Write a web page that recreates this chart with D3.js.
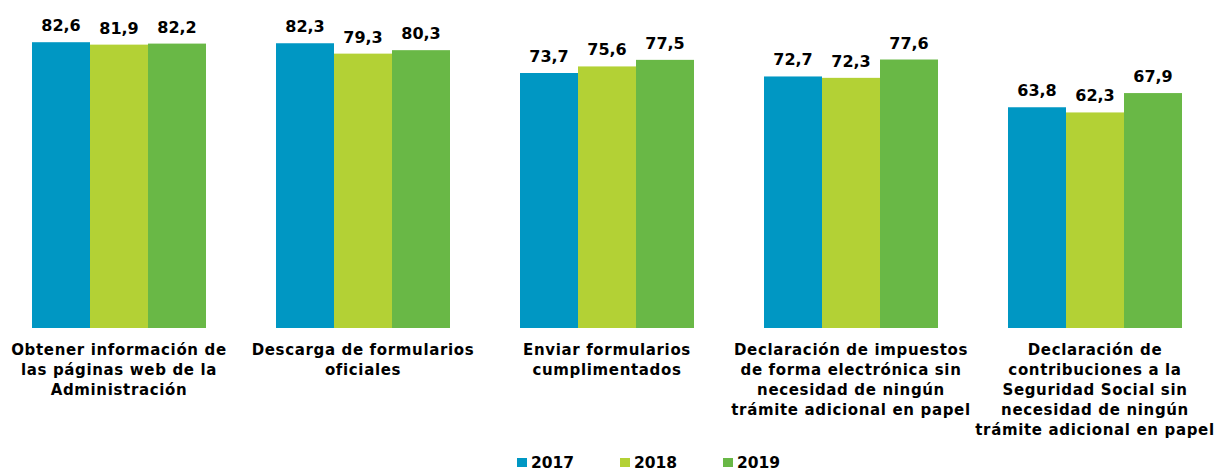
<!DOCTYPE html>
<html>
<head>
<meta charset="utf-8">
<script src="https://cdn.jsdelivr.net/npm/d3@7"></script>
<style>
  body { margin: 0; background: #fff; }
  text { font-family: "DejaVu Sans", Verdana, sans-serif; font-weight: bold; }
</style>
</head>
<body>
<div id="chart"></div>
<script>
// data
const categories = [
  ["Obtener información de", "las páginas web de la", "Administración"],
  ["Descarga de formularios", "oficiales"],
  ["Enviar formularios", "cumplimentados"],
  ["Declaración de impuestos", "de forma electrónica sin", "necesidad de ningún", "trámite adicional en papel"],
  ["Declaración de", "contribuciones a la", "Seguridad Social sin", "necesidad de ningún", "trámite adicional en papel"]
];
const years = ["2017", "2018", "2019"];
const values2017 = [82.6, 82.3, 73.7, 72.7, 63.8];
const values2018 = [81.9, 79.3, 75.6, 72.3, 62.3];
const values2019 = [82.2, 80.3, 77.5, 77.6, 67.9];
const colors = ["#0097c3", "#b3d135", "#69b846"];

const series = [values2017, values2018, values2019];

const width = 1215, height = 471;
const baseY = 328;

const svg = d3.select("#chart")
  .append("svg")
  .attr("width", width)
  .attr("height", height);

// scales
const x0 = d3.scaleBand()
  .domain(d3.range(categories.length))
  .range([-3, 1217]);

const x1 = d3.scaleBand()
  .domain(years)
  .range([x0.bandwidth() / 2 - 87, x0.bandwidth() / 2 + 87]);

const y = d3.scaleLinear()
  .domain([0, 94.8])
  .range([baseY, 0]);

const fmt = v => d3.format(".1f")(v).replace(".", ",");

// bars
const groups = svg.selectAll("g.group")
  .data(categories)
  .join("g")
    .attr("class", "group")
    .attr("transform", (d, i) => `translate(${x0(i)},0)`);

groups.selectAll("rect")
  .data((d, i) => years.map((yr, k) => ({ yr: yr, k: k, v: series[k][i] })))
  .join("rect")
    .attr("x", d => x1(d.yr))
    .attr("y", d => y(d.v))
    .attr("width", x1.bandwidth())
    .attr("height", d => baseY - y(d.v))
    .attr("fill", d => colors[d.k]);

// value labels
groups.selectAll("text.val")
  .data((d, i) => years.map((yr, k) => ({ yr: yr, k: k, v: series[k][i] })))
  .join("text")
    .attr("class", "val")
    .attr("x", d => x1(d.yr) + x1.bandwidth() / 2)
    .attr("y", d => y(d.v) - 11)
    .attr("text-anchor", "middle")
    .attr("font-size", "16px")
    .attr("fill", "#000")
    .text(d => fmt(d.v));

// category labels
groups.append("text")
  .attr("text-anchor", "middle")
  .attr("font-size", "15px")
  .attr("letter-spacing", "0.65px")
  .attr("fill", "#000")
  .selectAll("tspan")
  .data(d => d)
  .join("tspan")
    .attr("x", x0.bandwidth() / 2)
    .attr("y", (d, j) => 355 + j * 20)
    .text(d => d);

// legend
const legend = svg.append("g")
  .selectAll("g")
  .data(years)
  .join("g")
    .attr("transform", (d, i) => `translate(${517 + i * 103},0)`);

legend.append("rect")
  .attr("x", 0)
  .attr("y", 458)
  .attr("width", 10)
  .attr("height", 9)
  .attr("fill", (d, i) => colors[i]);

legend.append("text")
  .attr("x", 14)
  .attr("y", 468)
  .attr("font-size", "15.5px")
  .attr("fill", "#000")
  .text(d => d);
</script>
</body>
</html>
